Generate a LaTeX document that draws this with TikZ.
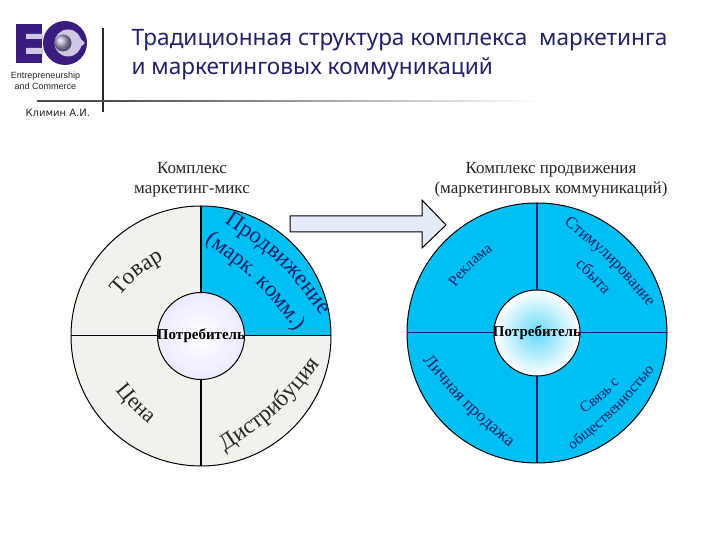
\documentclass[tikz,border=0pt]{standalone}
\usepackage{fontspec}
\setmainfont{Liberation Serif}
\newfontfamily\tahomaf{DejaVu Sans}
\newfontfamily\titlef{Noto Sans}
\newfontfamily\arialf{Liberation Sans}
\usetikzlibrary{decorations.text,shadings,calc}
\definecolor{creamc}{HTML}{F2F2EC}
\definecolor{bluec}{HTML}{00BFF3}
\definecolor{navyc}{HTML}{0B1F66}
\definecolor{titlec}{HTML}{22226A}
\definecolor{purplec}{HTML}{3A1C80}
\definecolor{lavc}{HTML}{CFC8E4}
\definecolor{arrowc}{HTML}{E4EBF6}
\tikzset{
 ringline/.style={draw=black,line width=1pt},
 spoke/.style={draw=black,line width=1.5pt},
 ctitle/.style={align=center,font=\fontsize{17}{20}\selectfont,text=black!85},
 hub/.style={font=\bfseries\fontsize{15}{16}\selectfont,text=black},
 rule/.style={draw=black!85,line width=1.6pt},
}
% \curvetext{x1}{y1}{cx}{cy}{x2}{y2}{size}{colour}{text}, y measured from the top
\newcommand{\curvetext}[9]{%
 \path[decorate,decoration={text along path,text align=center,
   text={|\fontsize{#7}{#7}\selectfont\color{#8}|#9}}]
   ($(#1,540-#2)!-18pt!(#5,540-#6)$) .. controls (#3,540-#4) .. ($(#5,540-#6)!-18pt!(#1,540-#2)$);}
\begin{document}
\begin{tikzpicture}[x=1pt,y=1pt]
\useasboundingbox (0,0) rectangle (720,540);
% header
\fill[purplec] (16,516) rectangle (42,477);
\fill[lavc] (26,506) rectangle (43,501) (26,492) rectangle (43,486);
\fill[purplec] (65,497) circle (22);
\fill[lavc] (68,497) circle (13.5);
\fill[lavc] (73,508) -- (85,497) -- (73,486) -- cycle;
\shade[ball color=purplec!40] (63,497) circle (8.5);
\node[font=\arialf\fontsize{9}{11}\selectfont,align=center,text=black!85] (logotext) at (45.5,459.5) {Entrepreneurship\\and Commerce};
\coordinate (vt) at (103,512); \coordinate (vb) at (103,428);
\coordinate (hl) at (37,439);
\draw[rule] (vt) -- (vb);
\fill[black!70] (hl) ++(0,-.7) rectangle (103,439.7);
\shade[left color=black!70,right color=white] (103,438.3) rectangle (540,439.7);
\node[anchor=west,font=\tahomaf\fontsize{10}{12}\selectfont,text=black!85] (author) at (22,427.5) {Климин А.И.};
\node[anchor=west,font=\titlef\fontsize{22.6}{29}\selectfont,align=left,text=titlec] (title) at (128,485) {Традиционная структура комплекса\ \ маркетинга\\и маркетинговых коммуникаций};
% left
\coordinate (L) at (201,204);
\fill[creamc] (L) circle (130);
\fill[bluec] (L) -- ++(0:130) arc[start angle=0,end angle=90,radius=130] -- cycle;
\draw[ringline] (L) circle (130);
\draw[spoke] ($(L)+(0,130)$) -- ($(L)+(0,-130)$);
\draw[ringline] ($(L)+(-130,0)$) -- ($(L)+(130,0)$);
\shade[ringline,inner color=white,outer color=blue!8] (L) circle (43.5);
\node[hub] (hubL) at (L) {Потребитель};
\node[ctitle] (ttlL) at (192,360) {Комплекс\\маркетинг-микс};
\curvetext{126}{293}{138}{275}{159}{266}{23}{black!85}{Товар}
\curvetext{229}{230}{281}{261}{314}{311}{23}{navyc}{Продвижение}
\curvetext{205}{245}{257}{280}{293}{331}{22.5}{navyc}{(марк. комм.)}
\curvetext{120}{393}{131}{409}{146}{420}{22}{black!85}{Цена}
\curvetext{226}{447}{280}{415}{316}{365}{23}{black!85}{Дистрибуция}
% arrow
\coordinate (arrowtip) at (446,315);
\filldraw[fill=arrowc,draw=black,line width=1pt] (290,324) -- (422,324) -- (422,340) -- (arrowtip) -- (422,292) -- (422,308) -- (290,308) -- cycle;
% right
\coordinate (R) at (537,207);
\fill[bluec] (R) circle (130);
\draw[ringline] (R) circle (130);
\draw[spoke,draw=navyc] ($(R)+(0,130)$) -- ($(R)+(0,-130)$);
\draw[spoke,draw=navyc,line width=1pt] ($(R)+(-130,0)$) -- ($(R)+(130,0)$);
\shade[ringline,inner color=bluec!60,outer color=white] (R) circle (43);
\node[hub] (hubR) at (R) {Потребитель};
\node[ctitle] (ttlR) at (551,360) {Комплекс продвижения\\(маркетинговых коммуникаций)};
\curvetext{456}{291}{471}{266}{497}{252}{15}{navyc}{Реклама}
\curvetext{564}{226}{610}{261}{646}{307}{16.5}{navyc}{Стимулирование}
\curvetext{574}{267}{591}{279}{603}{296}{16.5}{navyc}{сбыта}
\curvetext{426}{362}{462}{408}{508}{444}{17.5}{navyc}{Личная продажа}
\curvetext{584}{411}{604}{400}{617}{382}{15}{navyc}{Связь с}
\curvetext{574}{447}{618}{414}{651}{371}{15}{navyc}{общественностью}
\end{tikzpicture}
\end{document}
